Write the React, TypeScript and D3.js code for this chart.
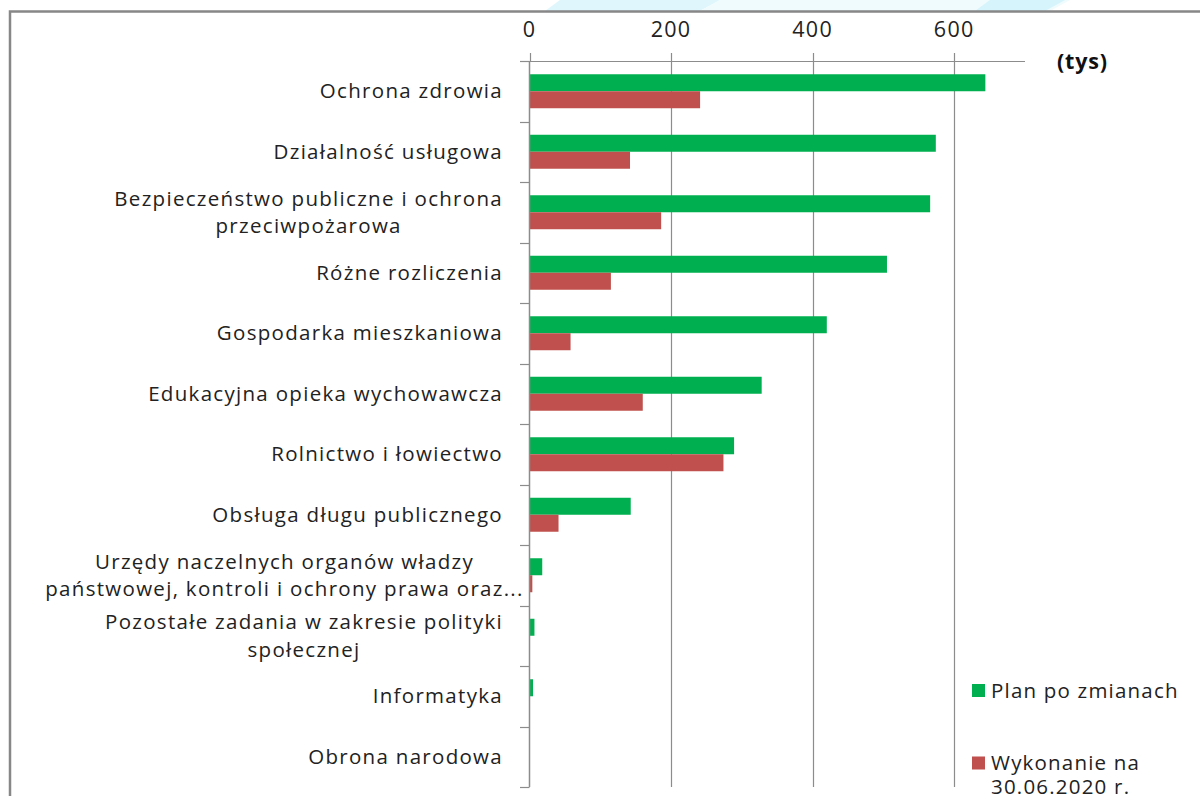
import React, { useEffect, useRef } from "react";
import * as d3 from "d3";

const categories: string[][] = [
  ["Ochrona zdrowia"],
  ["Działalność usługowa"],
  ["Bezpieczeństwo publiczne i ochrona", "przeciwpożarowa"],
  ["Różne rozliczenia"],
  ["Gospodarka mieszkaniowa"],
  ["Edukacyjna opieka wychowawcza"],
  ["Rolnictwo i łowiectwo"],
  ["Obsługa długu publicznego"],
  ["Urzędy naczelnych organów władzy", "państwowej, kontroli i ochrony prawa oraz..."],
  ["Pozostałe zadania w zakresie polityki", "społecznej"],
  ["Informatyka"],
  ["Obrona narodowa"],
];
const planValues: number[] = [644, 574, 566, 505, 420, 328, 289, 143, 18, 7, 5, 0];
const executionValues: number[] = [241, 142, 186, 115, 58, 160, 274, 41, 4, 0, 0, 0];
const xTicks: number[] = [0, 200, 400, 600];
const seriesNames: string[][] = [["Plan po zmianach"], ["Wykonanie na", "30.06.2020 r."]];
const unitLabel = "(tys)";

const GREEN = "#00B050";
const RED = "#C0504D";
const GRID = "#8c8c8c";
const FONT = "'Open Sans', sans-serif";

export default function App() {
  const ref = useRef<SVGSVGElement | null>(null);

  useEffect(() => {
    const svg = d3.select(ref.current);
    svg.selectAll("*").remove();

    const x0 = 529.5;
    const plotTop = 61;
    const plotBottom = 787;
    const x = d3.scaleLinear().domain([0, 700]).range([x0, 1025]);
    const y = d3
      .scaleBand<number>()
      .domain(d3.range(categories.length))
      .range([plotTop, plotBottom])
      .paddingInner(0)
      .paddingOuter(0);
    const inner = d3
      .scaleBand<number>()
      .domain([0, 1])
      .range([0, y.bandwidth()])
      .paddingInner(0)
      .paddingOuter(0.78);

    // watermark hint at top
    const wm = svg.append("g");
    wm.append("path")
      .attr("d", "M560,0 L720,0 L700,11 L545,11 Z")
      .attr("fill", "#dff7fc");
    wm.append("path")
      .attr("d", "M720,0 L1070,0 L1050,11 L700,11 Z")
      .attr("fill", "#effbfd");
    wm.append("path")
      .attr("d", "M990,0 L1065,0 L1045,11 L975,11 Z")
      .attr("fill", "#d6f4fb");

    // frame
    svg
      .append("path")
      .attr("d", "M10,800 L10,11.5 L1205,11.5")
      .attr("fill", "none")
      .attr("stroke", "#878787")
      .attr("stroke-width", 2.5);

    // gridlines + top tick marks
    const grid = svg.append("g");
    xTicks.forEach((t) => {
      const px = Math.round(x(t)) + 0.5;
      grid
        .append("line")
        .attr("x1", px)
        .attr("x2", px)
        .attr("y1", 53)
        .attr("y2", t === 0 ? plotTop : plotBottom)
        .attr("stroke", GRID)
        .attr("stroke-width", 1.2);
      grid
        .append("text")
        .attr("x", x(t))
        .attr("y", 37)
        .attr("text-anchor", "middle")
        .attr("font-family", FONT)
        .attr("font-size", 21.5)
        .attr("letter-spacing", 1.3)
        .attr("fill", "#222")
        .text(String(t));
    });
    grid
      .append("line")
      .attr("x1", 520)
      .attr("x2", x(700))
      .attr("y1", plotTop + 0.5)
      .attr("y2", plotTop + 0.5)
      .attr("stroke", GRID)
      .attr("stroke-width", 1.2);

    svg
      .append("text")
      .attr("x", 1057)
      .attr("y", 69)
      .attr("font-family", FONT)
      .attr("font-size", 21.5)
      .attr("font-weight", "bold")
      .attr("letter-spacing", 0.8)
      .attr("fill", "#111")
      .text(unitLabel);

    // bars
    const bars = svg.append("g");
    categories.forEach((_, i) => {
      const vals = [planValues[i], executionValues[i]];
      vals.forEach((v, s) => {
        if (v <= 0) return;
        bars
          .append("rect")
          .attr("x", x(0))
          .attr("y", (y(i) as number) + (inner(s) as number))
          .attr("width", x(v) - x(0))
          .attr("height", inner.bandwidth())
          .attr("fill", s === 0 ? GREEN : RED);
      });
    });

    // category axis
    const ax = svg.append("g");
    ax.append("line")
      .attr("x1", x0)
      .attr("x2", x0)
      .attr("y1", plotTop)
      .attr("y2", plotBottom)
      .attr("stroke", GRID)
      .attr("stroke-width", 1.5);
    d3.range(categories.length + 1).forEach((k) => {
      const py = Math.round(plotTop + k * y.step()) + 0.5;
      ax.append("line")
        .attr("x1", 520)
        .attr("x2", x0)
        .attr("y1", py)
        .attr("y2", py)
        .attr("stroke", GRID)
        .attr("stroke-width", 1.2);
    });

    // category labels
    const labels = svg.append("g");
    const lineGap = 27.5;
    categories.forEach((lines, i) => {
      const cy = (y(i) as number) + y.bandwidth() / 2;
      const g = labels.append("g");
      const texts = lines.map((ln, j) =>
        g
          .append("text")
          .attr("y", cy + (j - (lines.length - 1) / 2) * lineGap)
          .attr("dy", "0.35em")
          .attr("text-anchor", "middle")
          .attr("font-family", FONT)
          .attr("font-size", 20.5)
          .attr("letter-spacing", 1.3)
          .attr("fill", "#222")
          .text(ln)
      );
      const widths = texts.map((t) => (t.node() as SVGTextElement).getComputedTextLength());
      const w = Math.min(d3.max(widths) || 0, 437);
      texts.forEach((t) => t.attr("x", 503 - w / 2));
    });

    // legend
    const leg = svg.append("g");
    const legY = [690.5, 763];
    seriesNames.forEach((lines, s) => {
      leg.append("rect")
        .attr("x", 972)
        .attr("y", legY[s] - 6.5)
        .attr("width", 13)
        .attr("height", 13)
        .attr("fill", s === 0 ? GREEN : RED);
      lines.forEach((ln, j) => {
        leg.append("text")
          .attr("x", 991)
          .attr("y", legY[s] + j * 23.5)
          .attr("dy", "0.35em")
          .attr("font-family", FONT)
          .attr("font-size", 20.5)
          .attr("letter-spacing", 1.2)
          .attr("fill", "#222")
          .text(ln);
      });
    });
  }, []);

  return (
    <svg
      ref={ref}
      width={1200}
      height={796}
      style={{ position: "absolute", left: 0, top: 0, background: "#fff" }}
    />
  );
}
